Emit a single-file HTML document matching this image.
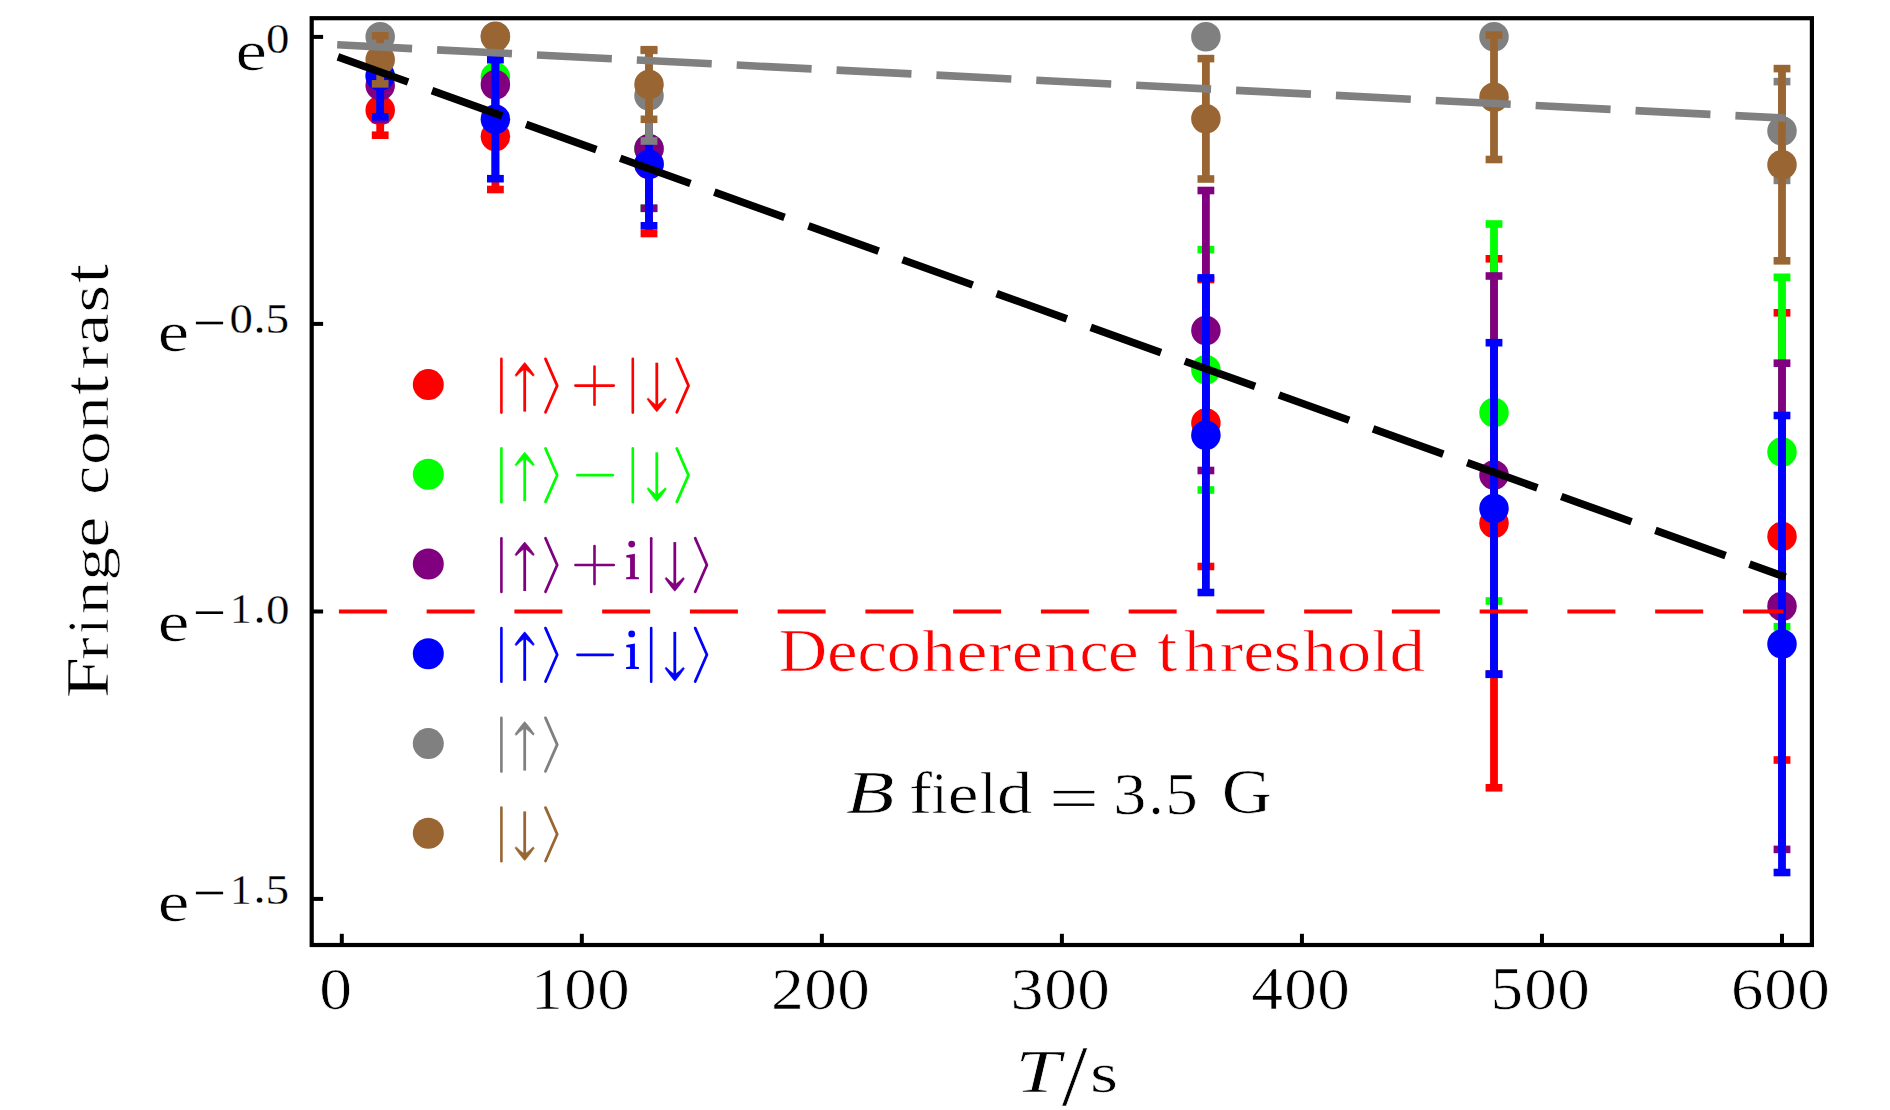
<!DOCTYPE html>
<html><head><meta charset="utf-8"><title>Fringe contrast</title>
<style>html,body{margin:0;padding:0;background:#fff;} body{width:1890px;height:1110px;overflow:hidden;font-family:"Liberation Serif", serif;} svg{display:block}</style>
</head><body>
<svg width="1890" height="1110" viewBox="0 0 1890 1110"><rect width="100%" height="100%" fill="#fff"/><g fill="#ff0000"><circle cx="380.2" cy="110.3" r="14.75"/><circle cx="495.4" cy="136.5" r="14.75"/><circle cx="649.0" cy="164.2" r="14.75"/><circle cx="1205.9" cy="423.0" r="14.75"/><circle cx="1494.0" cy="523.3" r="14.75"/><circle cx="1782.0" cy="536.4" r="14.75"/><rect x="376.30" y="85.40" width="7.8" height="49.80"/><rect x="371.80" y="81.60" width="16.8" height="7.6"/><rect x="371.80" y="131.40" width="16.8" height="7.6"/><rect x="491.50" y="83.50" width="7.8" height="106.00"/><rect x="487.00" y="79.70" width="16.8" height="7.6"/><rect x="487.00" y="185.70" width="16.8" height="7.6"/><rect x="645.10" y="94.90" width="7.8" height="138.60"/><rect x="640.60" y="91.10" width="16.8" height="7.6"/><rect x="640.60" y="229.70" width="16.8" height="7.6"/><rect x="1202.00" y="279.50" width="7.8" height="287.00"/><rect x="1197.50" y="275.70" width="16.8" height="7.6"/><rect x="1197.50" y="562.70" width="16.8" height="7.6"/><rect x="1490.10" y="258.80" width="7.8" height="529.00"/><rect x="1485.60" y="255.00" width="16.8" height="7.6"/><rect x="1485.60" y="784.00" width="16.8" height="7.6"/><rect x="1778.10" y="312.80" width="7.8" height="447.20"/><rect x="1773.60" y="309.00" width="16.8" height="7.6"/><rect x="1773.60" y="756.20" width="16.8" height="7.6"/></g>
<g fill="#00ff00"><circle cx="380.2" cy="76.0" r="14.75"/><circle cx="495.4" cy="77.0" r="14.75"/><circle cx="649.0" cy="148.8" r="14.75"/><circle cx="1205.9" cy="369.8" r="14.75"/><circle cx="1494.0" cy="412.5" r="14.75"/><circle cx="1782.0" cy="452.0" r="14.75"/><rect x="376.30" y="35.00" width="7.8" height="82.00"/><rect x="371.80" y="31.20" width="16.8" height="7.6"/><rect x="371.80" y="113.20" width="16.8" height="7.6"/><rect x="491.50" y="37.00" width="7.8" height="80.00"/><rect x="487.00" y="33.20" width="16.8" height="7.6"/><rect x="487.00" y="113.20" width="16.8" height="7.6"/><rect x="645.10" y="89.30" width="7.8" height="119.00"/><rect x="640.60" y="85.50" width="16.8" height="7.6"/><rect x="640.60" y="204.50" width="16.8" height="7.6"/><rect x="1202.00" y="249.60" width="7.8" height="240.40"/><rect x="1197.50" y="245.80" width="16.8" height="7.6"/><rect x="1197.50" y="486.20" width="16.8" height="7.6"/><rect x="1490.10" y="224.00" width="7.8" height="377.00"/><rect x="1485.60" y="220.20" width="16.8" height="7.6"/><rect x="1485.60" y="597.20" width="16.8" height="7.6"/><rect x="1778.10" y="277.30" width="7.8" height="349.40"/><rect x="1773.60" y="273.50" width="16.8" height="7.6"/><rect x="1773.60" y="622.90" width="16.8" height="7.6"/></g>
<g fill="#800080"><circle cx="380.2" cy="85.5" r="14.75"/><circle cx="495.4" cy="84.8" r="14.75"/><circle cx="649.0" cy="148.8" r="14.75"/><circle cx="1205.9" cy="330.5" r="14.75"/><circle cx="1494.0" cy="475.0" r="14.75"/><circle cx="1782.0" cy="606.3" r="14.75"/><rect x="376.30" y="51.50" width="7.8" height="68.00"/><rect x="371.80" y="47.70" width="16.8" height="7.6"/><rect x="371.80" y="115.70" width="16.8" height="7.6"/><rect x="491.50" y="50.80" width="7.8" height="68.00"/><rect x="487.00" y="47.00" width="16.8" height="7.6"/><rect x="487.00" y="115.00" width="16.8" height="7.6"/><rect x="645.10" y="89.30" width="7.8" height="119.00"/><rect x="640.60" y="85.50" width="16.8" height="7.6"/><rect x="640.60" y="204.50" width="16.8" height="7.6"/><rect x="1202.00" y="190.50" width="7.8" height="280.00"/><rect x="1197.50" y="186.70" width="16.8" height="7.6"/><rect x="1197.50" y="466.70" width="16.8" height="7.6"/><rect x="1490.10" y="276.00" width="7.8" height="398.00"/><rect x="1485.60" y="272.20" width="16.8" height="7.6"/><rect x="1485.60" y="670.20" width="16.8" height="7.6"/><rect x="1778.10" y="363.20" width="7.8" height="486.20"/><rect x="1773.60" y="359.40" width="16.8" height="7.6"/><rect x="1773.60" y="845.60" width="16.8" height="7.6"/></g>
<g fill="#0000ff"><circle cx="380.2" cy="76.0" r="14.75"/><circle cx="495.4" cy="119.2" r="14.75"/><circle cx="649.0" cy="164.2" r="14.75"/><circle cx="1205.9" cy="435.2" r="14.75"/><circle cx="1494.0" cy="508.5" r="14.75"/><circle cx="1782.0" cy="644.0" r="14.75"/><rect x="376.30" y="35.20" width="7.8" height="81.60"/><rect x="371.80" y="31.40" width="16.8" height="7.6"/><rect x="371.80" y="113.00" width="16.8" height="7.6"/><rect x="491.50" y="59.70" width="7.8" height="119.00"/><rect x="487.00" y="55.90" width="16.8" height="7.6"/><rect x="487.00" y="174.90" width="16.8" height="7.6"/><rect x="645.10" y="102.60" width="7.8" height="123.20"/><rect x="640.60" y="98.80" width="16.8" height="7.6"/><rect x="640.60" y="222.00" width="16.8" height="7.6"/><rect x="1202.00" y="277.90" width="7.8" height="314.60"/><rect x="1197.50" y="274.10" width="16.8" height="7.6"/><rect x="1197.50" y="588.70" width="16.8" height="7.6"/><rect x="1490.10" y="342.70" width="7.8" height="331.60"/><rect x="1485.60" y="338.90" width="16.8" height="7.6"/><rect x="1485.60" y="670.50" width="16.8" height="7.6"/><rect x="1778.10" y="415.50" width="7.8" height="457.00"/><rect x="1773.60" y="411.70" width="16.8" height="7.6"/><rect x="1773.60" y="868.70" width="16.8" height="7.6"/></g>
<g fill="#808080"><circle cx="380.2" cy="36.7" r="14.75"/><circle cx="495.4" cy="36.7" r="14.75"/><circle cx="649.0" cy="95.7" r="14.75"/><circle cx="1205.9" cy="36.7" r="14.75"/><circle cx="1494.0" cy="36.7" r="14.75"/><circle cx="1782.0" cy="131.0" r="14.75"/><rect x="371.80" y="32.90" width="16.8" height="7.6"/><rect x="371.80" y="32.90" width="16.8" height="7.6"/><rect x="487.00" y="32.90" width="16.8" height="7.6"/><rect x="487.00" y="32.90" width="16.8" height="7.6"/><rect x="645.10" y="50.40" width="7.8" height="90.60"/><rect x="640.60" y="46.60" width="16.8" height="7.6"/><rect x="640.60" y="137.20" width="16.8" height="7.6"/><rect x="1197.50" y="32.90" width="16.8" height="7.6"/><rect x="1197.50" y="32.90" width="16.8" height="7.6"/><rect x="1485.60" y="32.90" width="16.8" height="7.6"/><rect x="1485.60" y="32.90" width="16.8" height="7.6"/><rect x="1778.10" y="81.60" width="7.8" height="98.80"/><rect x="1773.60" y="77.80" width="16.8" height="7.6"/><rect x="1773.60" y="176.60" width="16.8" height="7.6"/></g>
<g fill="#996633"><circle cx="380.2" cy="59.8" r="14.75"/><circle cx="495.4" cy="36.3" r="14.75"/><circle cx="649.0" cy="84.5" r="14.75"/><circle cx="1205.9" cy="118.8" r="14.75"/><circle cx="1494.0" cy="97.3" r="14.75"/><circle cx="1782.0" cy="164.7" r="14.75"/><rect x="376.30" y="35.75" width="7.8" height="48.10"/><rect x="371.80" y="31.95" width="16.8" height="7.6"/><rect x="371.80" y="80.05" width="16.8" height="7.6"/><rect x="487.00" y="32.50" width="16.8" height="7.6"/><rect x="487.00" y="32.50" width="16.8" height="7.6"/><rect x="645.10" y="49.70" width="7.8" height="69.60"/><rect x="640.60" y="45.90" width="16.8" height="7.6"/><rect x="640.60" y="115.50" width="16.8" height="7.6"/><rect x="1202.00" y="58.60" width="7.8" height="120.40"/><rect x="1197.50" y="54.80" width="16.8" height="7.6"/><rect x="1197.50" y="175.20" width="16.8" height="7.6"/><rect x="1490.10" y="35.10" width="7.8" height="124.40"/><rect x="1485.60" y="31.30" width="16.8" height="7.6"/><rect x="1485.60" y="155.70" width="16.8" height="7.6"/><rect x="1778.10" y="68.60" width="7.8" height="192.20"/><rect x="1773.60" y="64.80" width="16.8" height="7.6"/><rect x="1773.60" y="257.00" width="16.8" height="7.6"/></g>
<path d="M337.2 44.8 L1785.5 118.2" stroke="#808080" stroke-width="7.6" stroke-dasharray="75 25" fill="none"/>
<path d="M337.9 56.8 L1785.5 577.1" stroke="#000" stroke-width="7.6" stroke-dasharray="74.6 25.4" fill="none"/>
<path d="M338.9 611.5 L1783.4 611.5" stroke="#ff0000" stroke-width="4.2" stroke-dasharray="48 39.75" fill="none"/>
<rect x="311.7" y="18.2" width="1500.2" height="926.8" fill="none" stroke="#000" stroke-width="4.2"/>
<rect x="311.7" y="34.90" width="11.4" height="4" fill="#000"/>
<rect x="311.7" y="321.90" width="11.4" height="4" fill="#000"/>
<rect x="311.7" y="609.50" width="11.4" height="4" fill="#000"/>
<rect x="311.7" y="896.90" width="11.4" height="4" fill="#000"/>
<rect x="339.80" y="933.8" width="4" height="11.2" fill="#000"/>
<rect x="579.83" y="933.8" width="4" height="11.2" fill="#000"/>
<rect x="819.86" y="933.8" width="4" height="11.2" fill="#000"/>
<rect x="1059.89" y="933.8" width="4" height="11.2" fill="#000"/>
<rect x="1299.92" y="933.8" width="4" height="11.2" fill="#000"/>
<rect x="1539.95" y="933.8" width="4" height="11.2" fill="#000"/>
<rect x="1779.98" y="933.8" width="4" height="11.2" fill="#000"/>
<g font-family="Liberation Serif" style="font-variant-ligatures:none;font-feature-settings:'liga' 0"><text transform="matrix(0.70811 0 0 0.56667 235.418 70.283)" font-size="100" font-style="normal" font-weight="normal" fill="#000" stroke="#fff" stroke-width="1.105" stroke-linejoin="round">e</text><text transform="matrix(0.70811 0 0 0.56042 157.818 350.890)" font-size="100" font-style="normal" font-weight="normal" fill="#000" stroke="#fff" stroke-width="1.111" stroke-linejoin="round">e</text><text transform="matrix(0.71351 0 0 0.57500 157.796 640.775)" font-size="100" font-style="normal" font-weight="normal" fill="#000" stroke="#fff" stroke-width="1.093" stroke-linejoin="round">e</text><text transform="matrix(0.71351 0 0 0.56667 157.796 921.283)" font-size="100" font-style="normal" font-weight="normal" fill="#000" stroke="#fff" stroke-width="1.101" stroke-linejoin="round">e</text><text transform="matrix(0.46875 0 0 0.41881 266.031 53.231)" font-size="100" font-style="normal" font-weight="normal" fill="#000" stroke="#fff" stroke-width="0.677" stroke-linejoin="round">0</text><text transform="matrix(0.46875 0 0 0.41139 229.431 333.439)" font-size="100" font-style="normal" font-weight="normal" fill="#000" stroke="#fff" stroke-width="0.683" stroke-linejoin="round">0</text><text transform="matrix(0.50571 0 0 0.48857 253.179 332.999)" font-size="100" font-style="normal" font-weight="normal" fill="#000" stroke="#fff" stroke-width="0.604" stroke-linejoin="round">.</text><text transform="matrix(0.47355 0 0 0.41550 265.467 333.434)" font-size="100" font-style="normal" font-weight="normal" fill="#000" stroke="#fff" stroke-width="0.676" stroke-linejoin="round">5</text><text transform="matrix(0.43302 0 0 0.41970 230.097 623.450)" font-size="100" font-style="normal" font-weight="normal" fill="#000" stroke="#fff" stroke-width="0.704" stroke-linejoin="round">1</text><text transform="matrix(0.50571 0 0 0.48857 253.179 622.999)" font-size="100" font-style="normal" font-weight="normal" fill="#000" stroke="#fff" stroke-width="0.604" stroke-linejoin="round">.</text><text transform="matrix(0.47109 0 0 0.41733 266.023 623.533)" font-size="100" font-style="normal" font-weight="normal" fill="#000" stroke="#fff" stroke-width="0.677" stroke-linejoin="round">0</text><text transform="matrix(0.43302 0 0 0.42273 230.097 903.850)" font-size="100" font-style="normal" font-weight="normal" fill="#000" stroke="#fff" stroke-width="0.701" stroke-linejoin="round">1</text><text transform="matrix(0.50571 0 0 0.48857 253.179 903.199)" font-size="100" font-style="normal" font-weight="normal" fill="#000" stroke="#fff" stroke-width="0.604" stroke-linejoin="round">.</text><text transform="matrix(0.47355 0 0 0.42300 265.467 903.727)" font-size="100" font-style="normal" font-weight="normal" fill="#000" stroke="#fff" stroke-width="0.670" stroke-linejoin="round">5</text><rect x="195.9" y="321.70" width="27.2" height="2.6" fill="#000"/><rect x="195.9" y="611.40" width="27.2" height="2.6" fill="#000"/><rect x="195.9" y="891.70" width="27.2" height="2.6" fill="#000"/><text transform="matrix(0.65625 0 0 0.59703 319.144 1009.153)" font-size="100" font-style="normal" font-weight="normal" fill="#000" stroke="#fff" stroke-width="1.118" stroke-linejoin="round">0</text><text transform="matrix(0.63396 0 0 0.59545 531.056 1008.750)" font-size="100" font-style="normal" font-weight="normal" fill="#000" stroke="#fff" stroke-width="1.139" stroke-linejoin="round">1</text><text transform="matrix(0.64922 0 0 0.59703 564.170 1009.153)" font-size="100" font-style="normal" font-weight="normal" fill="#000" stroke="#fff" stroke-width="1.124" stroke-linejoin="round">0</text><text transform="matrix(0.64922 0 0 0.59703 597.170 1009.153)" font-size="100" font-style="normal" font-weight="normal" fill="#000" stroke="#fff" stroke-width="1.124" stroke-linejoin="round">0</text><text transform="matrix(0.65750 0 0 0.58945 771.101 1008.650)" font-size="100" font-style="normal" font-weight="normal" fill="#000" stroke="#fff" stroke-width="1.124" stroke-linejoin="round">2</text><text transform="matrix(0.65156 0 0 0.59703 804.161 1009.153)" font-size="100" font-style="normal" font-weight="normal" fill="#000" stroke="#fff" stroke-width="1.122" stroke-linejoin="round">0</text><text transform="matrix(0.65156 0 0 0.59703 837.361 1009.153)" font-size="100" font-style="normal" font-weight="normal" fill="#000" stroke="#fff" stroke-width="1.122" stroke-linejoin="round">0</text><text transform="matrix(0.66048 0 0 0.59703 1010.568 1009.153)" font-size="100" font-style="normal" font-weight="normal" fill="#000" stroke="#fff" stroke-width="1.115" stroke-linejoin="round">3</text><text transform="matrix(0.65156 0 0 0.59703 1044.161 1009.153)" font-size="100" font-style="normal" font-weight="normal" fill="#000" stroke="#fff" stroke-width="1.122" stroke-linejoin="round">0</text><text transform="matrix(0.65156 0 0 0.59703 1077.361 1009.153)" font-size="100" font-style="normal" font-weight="normal" fill="#000" stroke="#fff" stroke-width="1.122" stroke-linejoin="round">0</text><text transform="matrix(0.63453 0 0 0.61061 1251.281 1008.950)" font-size="100" font-style="normal" font-weight="normal" fill="#000" stroke="#fff" stroke-width="1.125" stroke-linejoin="round">4</text><text transform="matrix(0.65156 0 0 0.59703 1284.161 1009.153)" font-size="100" font-style="normal" font-weight="normal" fill="#000" stroke="#fff" stroke-width="1.122" stroke-linejoin="round">0</text><text transform="matrix(0.65156 0 0 0.59703 1317.361 1009.153)" font-size="100" font-style="normal" font-weight="normal" fill="#000" stroke="#fff" stroke-width="1.122" stroke-linejoin="round">0</text><text transform="matrix(0.65207 0 0 0.60300 1490.555 1009.147)" font-size="100" font-style="normal" font-weight="normal" fill="#000" stroke="#fff" stroke-width="1.116" stroke-linejoin="round">5</text><text transform="matrix(0.65156 0 0 0.59703 1524.161 1009.153)" font-size="100" font-style="normal" font-weight="normal" fill="#000" stroke="#fff" stroke-width="1.122" stroke-linejoin="round">0</text><text transform="matrix(0.65156 0 0 0.59703 1557.361 1009.153)" font-size="100" font-style="normal" font-weight="normal" fill="#000" stroke="#fff" stroke-width="1.122" stroke-linejoin="round">0</text><text transform="matrix(0.64687 0 0 0.59703 1730.947 1009.153)" font-size="100" font-style="normal" font-weight="normal" fill="#000" stroke="#fff" stroke-width="1.126" stroke-linejoin="round">6</text><text transform="matrix(0.65156 0 0 0.59703 1764.161 1009.153)" font-size="100" font-style="normal" font-weight="normal" fill="#000" stroke="#fff" stroke-width="1.122" stroke-linejoin="round">0</text><text transform="matrix(0.65156 0 0 0.59703 1797.361 1009.153)" font-size="100" font-style="normal" font-weight="normal" fill="#000" stroke="#fff" stroke-width="1.122" stroke-linejoin="round">0</text><text transform="matrix(0 -0.74286 0.60305 0 108.450 698.179)" font-size="100" fill="#000" stroke="#fff" stroke-width="1.046" stroke-linejoin="round">F</text><text transform="matrix(0 -0.68242 0.55532 0 108.450 660.015)" font-size="100" fill="#000" stroke="#fff" stroke-width="1.137" stroke-linejoin="round">r</text><text transform="matrix(0 -0.54583 0.59698 0 108.450 633.842)" font-size="100" fill="#000" stroke="#fff" stroke-width="1.226" stroke-linejoin="round">i</text><text transform="matrix(0 -0.67174 0.55532 0 108.450 614.317)" font-size="100" fill="#000" stroke="#fff" stroke-width="1.146" stroke-linejoin="round">n</text><text transform="matrix(0 -0.67557 0.53562 0 109.245 580.777)" font-size="100" fill="#000" stroke="#fff" stroke-width="1.164" stroke-linejoin="round">g</text><text transform="matrix(0 -0.70270 0.56875 0 108.481 547.661)" font-size="100" fill="#000" stroke="#fff" stroke-width="1.107" stroke-linejoin="round">e</text><text transform="matrix(0 -0.65044 0.56875 0 108.481 494.635)" font-size="100" fill="#000" stroke="#fff" stroke-width="1.151" stroke-linejoin="round">c</text><text transform="matrix(0 -0.67500 0.57292 0 108.677 464.925)" font-size="100" fill="#000" stroke="#fff" stroke-width="1.126" stroke-linejoin="round">o</text><text transform="matrix(0 -0.67391 0.55532 0 108.450 430.022)" font-size="100" fill="#000" stroke="#fff" stroke-width="1.144" stroke-linejoin="round">n</text><text transform="matrix(0 -0.69494 0.65233 0 108.298 394.945)" font-size="100" fill="#000" stroke="#fff" stroke-width="1.040" stroke-linejoin="round">t</text><text transform="matrix(0 -0.69890 0.55532 0 108.450 369.448)" font-size="100" fill="#000" stroke="#fff" stroke-width="1.124" stroke-linejoin="round">r</text><text transform="matrix(0 -0.70169 0.56875 0 108.481 344.723)" font-size="100" fill="#000" stroke="#fff" stroke-width="1.108" stroke-linejoin="round">a</text><text transform="matrix(0 -0.71809 0.56875 0 108.481 312.822)" font-size="100" fill="#000" stroke="#fff" stroke-width="1.095" stroke-linejoin="round">s</text><text transform="matrix(0 -0.69494 0.65233 0 108.298 283.345)" font-size="100" fill="#000" stroke="#fff" stroke-width="1.040" stroke-linejoin="round">t</text><text transform="matrix(0.81220 0 0 0.60761 1015.335 1091.950)" font-size="100" font-style="italic" font-weight="normal" fill="#000" stroke="#fff" stroke-width="0.996" stroke-linejoin="round">T</text><text transform="matrix(0.92892 0 0 0.87612 1061.650 1105.474)" font-size="100" font-style="normal" font-weight="normal" fill="#000" stroke="#fff" stroke-width="0.776" stroke-linejoin="round">/</text><text transform="matrix(0.72128 0 0 0.56250 1090.065 1091.787)" font-size="100" font-style="normal" font-weight="normal" fill="#000" stroke="#fff" stroke-width="1.099" stroke-linejoin="round">s</text><text transform="matrix(0.67041 0 0 0.61515 778.639 670.845)" font-size="100" font-style="normal" font-weight="normal" fill="#ff0000" stroke="#fff" stroke-width="1.090" stroke-linejoin="round">D</text><text transform="matrix(0.68919 0 0 0.58750 826.993 670.963)" font-size="100" font-style="normal" font-weight="normal" fill="#ff0000" stroke="#fff" stroke-width="1.100" stroke-linejoin="round">e</text><text transform="matrix(0.66372 0 0 0.58750 857.516 670.963)" font-size="100" font-style="normal" font-weight="normal" fill="#ff0000" stroke="#fff" stroke-width="1.121" stroke-linejoin="round">c</text><text transform="matrix(0.68203 0 0 0.58750 886.749 670.963)" font-size="100" font-style="normal" font-weight="normal" fill="#ff0000" stroke="#fff" stroke-width="1.106" stroke-linejoin="round">o</text><text transform="matrix(0.66294 0 0 0.59423 922.587 670.950)" font-size="100" font-style="normal" font-weight="normal" fill="#ff0000" stroke="#fff" stroke-width="1.115" stroke-linejoin="round">h</text><text transform="matrix(0.69730 0 0 0.58750 956.461 670.963)" font-size="100" font-style="normal" font-weight="normal" fill="#ff0000" stroke="#fff" stroke-width="1.094" stroke-linejoin="round">e</text><text transform="matrix(0.70220 0 0 0.57447 987.946 670.950)" font-size="100" font-style="normal" font-weight="normal" fill="#ff0000" stroke="#fff" stroke-width="1.102" stroke-linejoin="round">r</text><text transform="matrix(0.70000 0 0 0.58750 1011.650 670.963)" font-size="100" font-style="normal" font-weight="normal" fill="#ff0000" stroke="#fff" stroke-width="1.092" stroke-linejoin="round">e</text><text transform="matrix(0.68696 0 0 0.57447 1044.047 670.950)" font-size="100" font-style="normal" font-weight="normal" fill="#ff0000" stroke="#fff" stroke-width="1.114" stroke-linejoin="round">n</text><text transform="matrix(0.65841 0 0 0.58750 1079.436 670.963)" font-size="100" font-style="normal" font-weight="normal" fill="#ff0000" stroke="#fff" stroke-width="1.126" stroke-linejoin="round">c</text><text transform="matrix(0.69730 0 0 0.58750 1107.761 670.963)" font-size="100" font-style="normal" font-weight="normal" fill="#ff0000" stroke="#fff" stroke-width="1.094" stroke-linejoin="round">e</text><text transform="matrix(0.72501 0 0 0.65058 1157.179 670.699)" font-size="100" font-style="normal" font-weight="normal" fill="#ff0000" stroke="#fff" stroke-width="1.019" stroke-linejoin="round">t</text><text transform="matrix(0.66503 0 0 0.59423 1183.885 670.950)" font-size="100" font-style="normal" font-weight="normal" fill="#ff0000" stroke="#fff" stroke-width="1.114" stroke-linejoin="round">h</text><text transform="matrix(0.70549 0 0 0.57447 1219.639 670.950)" font-size="100" font-style="normal" font-weight="normal" fill="#ff0000" stroke="#fff" stroke-width="1.100" stroke-linejoin="round">r</text><text transform="matrix(0.69459 0 0 0.58750 1243.272 670.963)" font-size="100" font-style="normal" font-weight="normal" fill="#ff0000" stroke="#fff" stroke-width="1.096" stroke-linejoin="round">e</text><text transform="matrix(0.70532 0 0 0.58750 1273.429 670.963)" font-size="100" font-style="normal" font-weight="normal" fill="#ff0000" stroke="#fff" stroke-width="1.087" stroke-linejoin="round">s</text><text transform="matrix(0.66503 0 0 0.59423 1303.085 670.950)" font-size="100" font-style="normal" font-weight="normal" fill="#ff0000" stroke="#fff" stroke-width="1.114" stroke-linejoin="round">h</text><text transform="matrix(0.68203 0 0 0.58750 1336.949 670.963)" font-size="100" font-style="normal" font-weight="normal" fill="#ff0000" stroke="#fff" stroke-width="1.106" stroke-linejoin="round">o</text><text transform="matrix(0.58310 0 0 0.59423 1372.184 670.950)" font-size="100" font-style="normal" font-weight="normal" fill="#ff0000" stroke="#fff" stroke-width="1.189" stroke-linejoin="round">l</text><text transform="matrix(0.71111 0 0 0.59289 1389.443 670.857)" font-size="100" font-style="normal" font-weight="normal" fill="#ff0000" stroke="#fff" stroke-width="1.078" stroke-linejoin="round">d</text><text transform="matrix(0.79138 0 0 0.61061 846.059 813.146)" font-size="100" font-style="italic" font-weight="normal" fill="#000" stroke="#fff" stroke-width="1.007" stroke-linejoin="round">B</text><text transform="matrix(0.69231 0 0 0.59147 909.073 813.150)" font-size="100" font-style="normal" font-weight="normal" fill="#000" stroke="#fff" stroke-width="1.094" stroke-linejoin="round">f</text><text transform="matrix(0.55833 0 0 0.59698 931.733 813.150)" font-size="100" font-style="normal" font-weight="normal" fill="#000" stroke="#fff" stroke-width="1.212" stroke-linejoin="round">i</text><text transform="matrix(0.69189 0 0 0.56667 947.782 813.283)" font-size="100" font-style="normal" font-weight="normal" fill="#000" stroke="#fff" stroke-width="1.118" stroke-linejoin="round">e</text><text transform="matrix(0.60423 0 0 0.59567 979.642 813.150)" font-size="100" font-style="normal" font-weight="normal" fill="#000" stroke="#fff" stroke-width="1.167" stroke-linejoin="round">l</text><text transform="matrix(0.70667 0 0 0.59431 996.959 813.056)" font-size="100" font-style="normal" font-weight="normal" fill="#000" stroke="#fff" stroke-width="1.080" stroke-linejoin="round">d</text><rect x="1053.7" y="790.9" width="40.6" height="2.4" fill="#000"/><rect x="1053.7" y="803.5" width="40.6" height="2.4" fill="#000"/><text transform="matrix(0.66290 0 0 0.59554 1113.356 813.754)" font-size="100" font-style="normal" font-weight="normal" fill="#000" stroke="#fff" stroke-width="1.114" stroke-linejoin="round">3</text><text transform="matrix(0.62571 0 0 0.60857 1148.279 813.539)" font-size="100" font-style="normal" font-weight="normal" fill="#000" stroke="#fff" stroke-width="1.134" stroke-linejoin="round">.</text><text transform="matrix(0.65207 0 0 0.60150 1165.255 813.749)" font-size="100" font-style="normal" font-weight="normal" fill="#000" stroke="#fff" stroke-width="1.118" stroke-linejoin="round">5</text><text transform="matrix(0.69385 0 0 0.62376 1221.675 813.026)" font-size="100" font-style="normal" font-weight="normal" fill="#000" stroke="#fff" stroke-width="1.064" stroke-linejoin="round">G</text></g>
<circle cx="428.3" cy="384.6" r="15.5" fill="#ff0000"/><g stroke="#ff0000" stroke-width="2.6" stroke-linecap="round" fill="none"><line x1="501.4" y1="358.80" x2="501.4" y2="412.60"/><line x1="524.7" y1="411.60" x2="524.7" y2="368.60" stroke-linecap="butt" stroke-width="2.8"/><path d="M515.10,375.10 Q520.80,366.70 524.70,362.60 Q528.60,366.70 534.30,375.10 L533.10,376.20 Q529.00,372.00 526.10,370.00 L523.30,370.00 Q520.40,372.00 516.30,376.20 Z" fill="#ff0000" stroke="#ff0000" stroke-width="0.6" stroke-linejoin="round"/><polyline points="545.50,358.90 557.20,385.60 545.50,412.30" fill="none" stroke-width="2.8" stroke-linejoin="round"/><line x1="575.4" y1="385.60" x2="613.8" y2="385.60"/><line x1="594.5" y1="366.60" x2="594.5" y2="404.70"/><line x1="632.8" y1="358.80" x2="632.8" y2="412.60"/><line x1="656.8" y1="362.70" x2="656.8" y2="405.80" stroke-linecap="butt" stroke-width="2.8"/><path d="M647.20,399.30 Q652.90,407.70 656.80,411.80 Q660.70,407.70 666.40,399.30 L665.20,398.20 Q661.10,402.40 658.20,404.40 L655.40,404.40 Q652.50,402.40 648.40,398.20 Z" fill="#ff0000" stroke="#ff0000" stroke-width="0.6" stroke-linejoin="round"/><polyline points="676.80,358.90 688.50,385.60 676.80,412.30" fill="none" stroke-width="2.8" stroke-linejoin="round"/></g><circle cx="428.3" cy="474.2" r="15.5" fill="#00ff00"/><g stroke="#00ff00" stroke-width="2.6" stroke-linecap="round" fill="none"><line x1="501.4" y1="448.40" x2="501.4" y2="502.20"/><line x1="524.7" y1="501.20" x2="524.7" y2="458.20" stroke-linecap="butt" stroke-width="2.8"/><path d="M515.10,464.70 Q520.80,456.30 524.70,452.20 Q528.60,456.30 534.30,464.70 L533.10,465.80 Q529.00,461.60 526.10,459.60 L523.30,459.60 Q520.40,461.60 516.30,465.80 Z" fill="#00ff00" stroke="#00ff00" stroke-width="0.6" stroke-linejoin="round"/><polyline points="545.50,448.50 557.20,475.20 545.50,501.90" fill="none" stroke-width="2.8" stroke-linejoin="round"/><line x1="577.5" y1="475.20" x2="612.7" y2="475.20" stroke-width="2.8"/><line x1="632.8" y1="448.40" x2="632.8" y2="502.20"/><line x1="656.8" y1="452.30" x2="656.8" y2="495.40" stroke-linecap="butt" stroke-width="2.8"/><path d="M647.20,488.90 Q652.90,497.30 656.80,501.40 Q660.70,497.30 666.40,488.90 L665.20,487.80 Q661.10,492.00 658.20,494.00 L655.40,494.00 Q652.50,492.00 648.40,487.80 Z" fill="#00ff00" stroke="#00ff00" stroke-width="0.6" stroke-linejoin="round"/><polyline points="676.80,448.50 688.50,475.20 676.80,501.90" fill="none" stroke-width="2.8" stroke-linejoin="round"/></g><circle cx="428.3" cy="564.0" r="15.5" fill="#800080"/><g stroke="#800080" stroke-width="2.6" stroke-linecap="round" fill="none"><line x1="501.4" y1="538.20" x2="501.4" y2="592.00"/><line x1="524.7" y1="591.00" x2="524.7" y2="548.00" stroke-linecap="butt" stroke-width="2.8"/><path d="M515.10,554.50 Q520.80,546.10 524.70,542.00 Q528.60,546.10 534.30,554.50 L533.10,555.60 Q529.00,551.40 526.10,549.40 L523.30,549.40 Q520.40,551.40 516.30,555.60 Z" fill="#800080" stroke="#800080" stroke-width="0.6" stroke-linejoin="round"/><polyline points="545.50,538.30 557.20,565.00 545.50,591.70" fill="none" stroke-width="2.8" stroke-linejoin="round"/><line x1="575.4" y1="565.00" x2="613.8" y2="565.00"/><line x1="594.5" y1="546.00" x2="594.5" y2="584.10"/><line x1="651.2" y1="538.20" x2="651.2" y2="592.00"/><line x1="674.8" y1="542.10" x2="674.8" y2="585.20" stroke-linecap="butt" stroke-width="2.8"/><path d="M665.20,578.70 Q670.90,587.10 674.80,591.20 Q678.70,587.10 684.40,578.70 L683.20,577.60 Q679.10,581.80 676.20,583.80 L673.40,583.80 Q670.50,581.80 666.40,577.60 Z" fill="#800080" stroke="#800080" stroke-width="0.6" stroke-linejoin="round"/><polyline points="695.20,538.30 706.90,565.00 695.20,591.70" fill="none" stroke-width="2.8" stroke-linejoin="round"/></g><path d="M626.3 555.30 L634.9 553.80 L634.9 576.40 Q635.3 577.30 638.9 577.20 L638.9 579.20 L626.1 579.20 L626.1 577.20 Q629.7 577.30 630.1 576.40 L630.1 558.00 Q629.8 557.30 626.3 557.50 Z" fill="#800080"/><circle cx="631.7" cy="544.10" r="3.4" fill="#800080"/><circle cx="428.3" cy="653.8" r="15.5" fill="#0000ff"/><g stroke="#0000ff" stroke-width="2.6" stroke-linecap="round" fill="none"><line x1="501.4" y1="628.00" x2="501.4" y2="681.80"/><line x1="524.7" y1="680.80" x2="524.7" y2="637.80" stroke-linecap="butt" stroke-width="2.8"/><path d="M515.10,644.30 Q520.80,635.90 524.70,631.80 Q528.60,635.90 534.30,644.30 L533.10,645.40 Q529.00,641.20 526.10,639.20 L523.30,639.20 Q520.40,641.20 516.30,645.40 Z" fill="#0000ff" stroke="#0000ff" stroke-width="0.6" stroke-linejoin="round"/><polyline points="545.50,628.10 557.20,654.80 545.50,681.50" fill="none" stroke-width="2.8" stroke-linejoin="round"/><line x1="577.5" y1="654.80" x2="612.7" y2="654.80" stroke-width="2.8"/><line x1="651.2" y1="628.00" x2="651.2" y2="681.80"/><line x1="674.8" y1="631.90" x2="674.8" y2="675.00" stroke-linecap="butt" stroke-width="2.8"/><path d="M665.20,668.50 Q670.90,676.90 674.80,681.00 Q678.70,676.90 684.40,668.50 L683.20,667.40 Q679.10,671.60 676.20,673.60 L673.40,673.60 Q670.50,671.60 666.40,667.40 Z" fill="#0000ff" stroke="#0000ff" stroke-width="0.6" stroke-linejoin="round"/><polyline points="695.20,628.10 706.90,654.80 695.20,681.50" fill="none" stroke-width="2.8" stroke-linejoin="round"/></g><path d="M626.3 645.10 L634.9 643.60 L634.9 666.20 Q635.3 667.10 638.9 667.00 L638.9 669.00 L626.1 669.00 L626.1 667.00 Q629.7 667.10 630.1 666.20 L630.1 647.80 Q629.8 647.10 626.3 647.30 Z" fill="#0000ff"/><circle cx="631.7" cy="633.90" r="3.4" fill="#0000ff"/><circle cx="428.3" cy="743.6" r="15.5" fill="#808080"/><g stroke="#808080" stroke-width="2.6" stroke-linecap="round" fill="none"><line x1="501.4" y1="717.80" x2="501.4" y2="771.60"/><line x1="524.7" y1="770.60" x2="524.7" y2="727.60" stroke-linecap="butt" stroke-width="2.8"/><path d="M515.10,734.10 Q520.80,725.70 524.70,721.60 Q528.60,725.70 534.30,734.10 L533.10,735.20 Q529.00,731.00 526.10,729.00 L523.30,729.00 Q520.40,731.00 516.30,735.20 Z" fill="#808080" stroke="#808080" stroke-width="0.6" stroke-linejoin="round"/><polyline points="545.50,717.90 557.20,744.60 545.50,771.30" fill="none" stroke-width="2.8" stroke-linejoin="round"/></g><circle cx="428.3" cy="833.3" r="15.5" fill="#996633"/><g stroke="#996633" stroke-width="2.6" stroke-linecap="round" fill="none"><line x1="501.4" y1="807.50" x2="501.4" y2="861.30"/><line x1="524.7" y1="811.40" x2="524.7" y2="854.50" stroke-linecap="butt" stroke-width="2.8"/><path d="M515.10,848.00 Q520.80,856.40 524.70,860.50 Q528.60,856.40 534.30,848.00 L533.10,846.90 Q529.00,851.10 526.10,853.10 L523.30,853.10 Q520.40,851.10 516.30,846.90 Z" fill="#996633" stroke="#996633" stroke-width="0.6" stroke-linejoin="round"/><polyline points="545.50,807.60 557.20,834.30 545.50,861.00" fill="none" stroke-width="2.8" stroke-linejoin="round"/></g></svg>
</body></html>
